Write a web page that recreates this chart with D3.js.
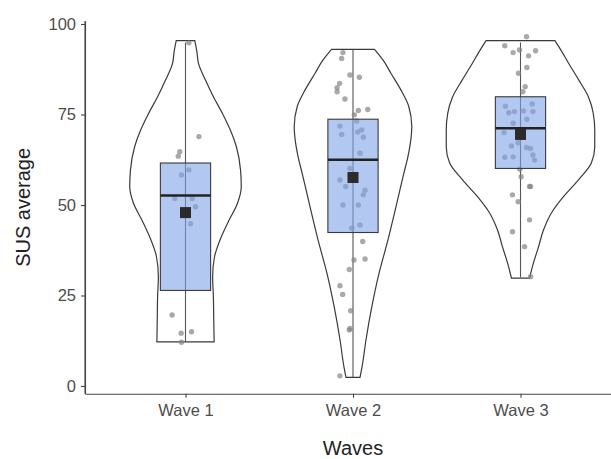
<!DOCTYPE html>
<html><head><meta charset="utf-8">
<script src="https://cdn.jsdelivr.net/npm/d3@7"></script>
<style>body{margin:0;background:#fff}svg{display:block}text{font-family:"Liberation Sans",Arial,sans-serif}</style>
</head><body><svg id="c" width="611" height="459"></svg>
<script>
// ---- data ----
const waves = ["Wave 1", "Wave 2", "Wave 3"];
const yTicks = [0, 25, 50, 75, 100];
// violin outlines: value and relative density (1 = widest violin)
const violinValues = [
  [12.2, 18.2, 24.7, 30.2, 35.7, 41.2, 45.9, 50.5, 55.1, 59.7, 66.1, 70.7, 75.3, 79.9, 84.5, 89.1, 92.5, 95.4],
  [2.4, 5.3, 12.7, 21.9, 31.1, 40.3, 49.5, 58.8, 63.3, 68.0, 71.6, 77.2, 81.8, 86.4, 90.0, 93.0],
  [29.8, 34.0, 38.5, 43.1, 47.8, 52.3, 56.9, 61.6, 66.0, 70.7, 75.4, 79.9, 84.5, 89.1, 92.8, 95.4]
];
const violinDensity = [
  [0.38, 0.375, 0.37, 0.36, 0.385, 0.475, 0.58, 0.69, 0.74, 0.73, 0.675, 0.595, 0.49, 0.37, 0.265, 0.172, 0.15, 0.123],
  [0.093, 0.12, 0.172, 0.25, 0.345, 0.463, 0.57, 0.675, 0.728, 0.767, 0.78, 0.74, 0.635, 0.503, 0.40, 0.285],
  [0.12, 0.172, 0.24, 0.305, 0.41, 0.57, 0.767, 0.94, 0.985, 0.985, 0.965, 0.90, 0.774, 0.64, 0.536, 0.456]
];
// box statistics
const boxLow = [12.2, 2.4, 30.0];
const boxQ1 = [26.4, 42.4, 60.1];
const boxMedian = [52.6, 62.5, 71.2];
const boxQ3 = [61.6, 73.7, 79.9];
const boxHigh = [94.9, 92.8, 94.9];
const means = [47.9, 57.6, 69.5];
// jittered observations: value and horizontal jitter (fraction of category step)
const pts1 = [94.8, 68.9, 64.7, 63.5, 58.3, 59.7, 51.8, 51.8, 49.5, 44.8, 19.6, 14.6, 15.0, 12.1];
const jit1 = [0.02, 0.08, -0.034, -0.043, -0.024, 0.02, -0.064, 0.04, 0.06, 0.03, -0.08, -0.026, 0.036, -0.024];
const pts2 = [92.1, 90.5, 85.9, 85.3, 83.6, 82.4, 81.3, 79.3, 76.1, 76.4, 74.9, 71.8, 73.2, 70.7, 70.2, 69.5, 68.7, 64.3, 60.1, 56.9, 55.1, 54.1, 52.8, 50.0, 50.0, 44.5, 43.6, 39.9, 34.8, 35.1, 32.2, 27.7, 25.3, 20.8, 15.9, 15.5, 2.8];
const jit2 = [-0.06, -0.068, -0.018, 0.038, -0.08, -0.095, -0.095, -0.048, 0.032, 0.088, 0.008, -0.078, 0.022, 0.052, 0.028, -0.068, 0.062, 0.042, -0.018, -0.078, -0.044, 0.072, 0.062, -0.06, 0.032, 0.042, -0.008, 0.058, 0.006, 0.072, -0.022, -0.078, -0.062, -0.014, -0.018, -0.022, -0.078];
const pts3 = [96.5, 94.0, 92.1, 92.8, 91.2, 92.6, 88.0, 86.4, 82.7, 81.3, 77.9, 77.3, 75.5, 75.8, 76.0, 75.8, 73.7, 72.6, 70.0, 67.2, 66.3, 65.9, 65.6, 63.8, 63.2, 63.3, 62.4, 59.9, 57.8, 55.1, 55.1, 52.8, 50.9, 45.9, 42.6, 38.5, 30.2];
const jit3 = [0.036, -0.094, -0.044, -0.006, 0.048, 0.09, 0.038, -0.012, 0.028, 0.014, 0.07, -0.09, -0.07, -0.036, 0.018, 0.074, 0.038, -0.044, -0.098, -0.014, -0.054, 0.036, 0.06, 0.074, -0.094, -0.044, 0.084, -0.004, 0.004, 0.06, 0.054, -0.048, -0.014, 0.054, -0.048, 0.024, 0.06];
const points = [pts1, pts2, pts3];
const jitters = [jit1, jit2, jit3];

// ---- layout ----
const svg = d3.select("#c");
const panel = {left: 85, right: 621, top: 21, bottom: 393.7};
const x = d3.scalePoint().domain(waves).range([panel.left, panel.right]).padding(0.6);
const step = x.step();
const y = d3.scaleLinear().domain([-2.13, 100.83]).range([panel.bottom, panel.top]);
const w = d3.scaleLinear().domain([0, 1]).range([0, 0.45 * step]);
const boxW = 0.3 * step;

const g = svg.append("g");

// violins
waves.forEach((wv, i) => {
  const cx = x(wv);
  const prof = violinValues[i].map((v, k) => ({v, d: violinDensity[i][k]}));
  const area = d3.area()
    .y(p => y(p.v))
    .x0(p => cx - w(p.d))
    .x1(p => cx + w(p.d))
    .curve(d3.curveMonotoneY);
  g.append("path").attr("d", area(prof))
    .attr("fill", "#fff").attr("stroke", "#3a3a3a").attr("stroke-width", 1.2);
});

// whiskers
waves.forEach((wv, i) => {
  g.append("line").attr("x1", x(wv)).attr("x2", x(wv))
    .attr("y1", y(boxLow[i])).attr("y2", y(boxHigh[i]))
    .attr("stroke", "#555").attr("stroke-width", 1.1);
});

// points
waves.forEach((wv, i) => {
  g.selectAll(null).data(points[i].map((v, k) => ({v, j: jitters[i][k]}))).enter()
    .append("circle")
    .attr("cx", p => x(wv) + p.j * step)
    .attr("cy", p => y(p.v))
    .attr("r", 2.7)
    .attr("fill", "#858585").attr("fill-opacity", 0.7);
});

// boxes
waves.forEach((wv, i) => {
  const cx = x(wv);
  g.append("rect").attr("x", cx - boxW / 2).attr("width", boxW)
    .attr("y", y(boxQ3[i])).attr("height", y(boxQ1[i]) - y(boxQ3[i]))
    .attr("fill", "rgb(128,163,230)").attr("fill-opacity", 0.6)
    .attr("stroke", "#3a3a3a").attr("stroke-width", 1.1);
  g.append("line").attr("x1", cx - boxW / 2).attr("x2", cx + boxW / 2)
    .attr("y1", y(boxMedian[i])).attr("y2", y(boxMedian[i]))
    .attr("stroke", "#222").attr("stroke-width", 2.5);
  g.append("rect").attr("x", cx - 5.5).attr("y", y(means[i]) - 5.5)
    .attr("width", 11).attr("height", 11).attr("fill", "#2b2b2b");
});

// axes
const yAxis = svg.append("g").attr("transform", `translate(${panel.left},0)`)
  .call(d3.axisLeft(y).tickValues(yTicks).tickSize(4).tickSizeOuter(0).tickPadding(5));
const xAxis = svg.append("g").attr("transform", `translate(0,${panel.bottom})`)
  .call(d3.axisBottom(x).tickSize(4).tickSizeOuter(0).tickPadding(7));
[yAxis, xAxis].forEach(a => {
  a.select(".domain").attr("stroke", "#444").attr("stroke-width", 1.1);
  a.selectAll(".tick line").attr("stroke", "#444").attr("stroke-width", 1.1);
  a.selectAll(".tick text").attr("fill", "#4d4d4d").style("font-size", "16.5px");
});
svg.append("line").attr("x1", panel.left).attr("x2", panel.left).attr("y1", panel.top).attr("y2", panel.bottom)
  .attr("stroke", "#444").attr("stroke-width", 1.1);

// titles
svg.append("text").attr("x", (panel.left + panel.right) / 2).attr("y", 455)
  .attr("text-anchor", "middle").attr("fill", "#222").style("font-size", "20px").text("Waves");
svg.append("text").attr("transform", `translate(30,${(panel.top + panel.bottom) / 2}) rotate(-90)`)
  .attr("text-anchor", "middle").attr("fill", "#222").style("font-size", "20px").text("SUS average");
</script></body></html>
